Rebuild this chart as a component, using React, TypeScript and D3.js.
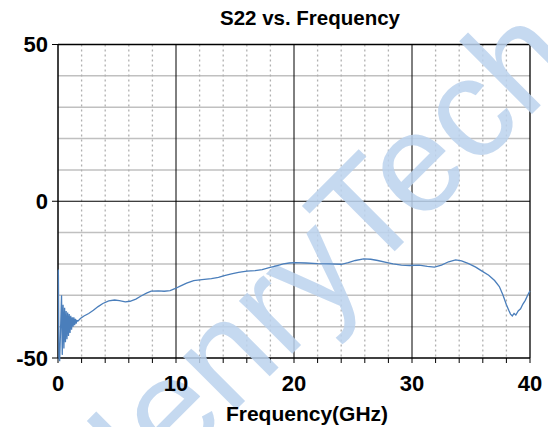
import React from "react";
import * as d3 from "d3";

const freqGHz: number[] = [
  0, 0.03, 0.08, 0.14, 0.3, 0.36, 0.43, 0.5, 0.56, 0.63, 0.69, 0.76, 0.82, 0.89, 0.95, 1.02, 1.08, 1.15,
  1.21, 1.28, 1.34, 1.41, 1.47, 1.54, 1.6, 1.7, 1.9, 2.2, 2.6, 3.0, 3.4, 3.8, 4.3, 4.8, 5.2, 5.7, 6.1, 6.6,
  7.0, 7.5, 7.9, 8.5, 9.0, 9.5, 9.9, 10.4, 10.9, 11.5, 12.2, 13.0, 13.6, 14.1, 14.7, 15.3, 16.0, 16.7, 17.3,
  17.9, 18.5, 19.1, 19.6, 20.1, 21.0, 22.0, 23.0, 24.0, 24.6, 25.2, 25.9, 26.5, 27.1, 27.8, 28.4, 29.1, 29.8,
  30.6, 31.3, 31.9, 32.5, 33.1, 33.7, 34.2, 34.8, 35.4, 35.9, 36.5, 37.0, 37.4, 37.7, 38.0, 38.2, 38.35,
  38.5, 38.65, 38.8, 39.0, 39.2, 39.4, 39.6, 39.8, 40.0,
];

const s22dB: number[] = [
  -22, -22, -50, -51, -30, -49, -33, -47, -34, -45, -35, -44, -35.5, -43, -36, -42, -36.5, -41,
  -37, -40, -37, -39.5, -37.5, -39, -38, -38.2, -37.4, -36.6, -35.8, -34.8, -33.6, -32.6, -31.8, -31.5, -31.7, -32.1, -31.9, -31.2,
  -30.3, -29.3, -28.7, -28.6, -28.7, -28.5, -27.9, -27.0, -26.1, -25.3, -25.0, -24.7, -24.3, -23.7, -23.2, -22.7, -22.3, -22.1, -21.8,
  -21.2, -20.6, -20.0, -19.7, -19.6, -19.7, -19.9, -20.0, -20.1, -19.6, -18.9, -18.4, -18.5, -18.9, -19.5, -20.0, -20.4, -20.5,
  -20.4, -20.8, -21.0, -20.4, -19.3, -18.7, -19.0, -19.9, -21.0, -22.2, -23.6, -25.3, -27.2, -29.8, -33.0, -34.8, -36.0,
  -36.6, -35.8, -36.3, -35.0, -34.3, -32.8, -31.6, -30.0, -28.6,
];

const xTicks: number[] = [0, 10, 20, 30, 40];
const yTicks: number[] = [-50, 0, 50];
const titleText = "S22 vs. Frequency";
const xTitle = "Frequency(GHz)";
const watermark = "HenryTech";

const W = 548;
const H = 427;
const FONT = "'Liberation Sans', Arial, sans-serif";

export default function App() {
  const x = d3.scaleLinear().domain([0, 40]).range([58, 530]);
  const y = d3.scaleLinear().domain([-50, 50]).range([358, 44.5]);
  const minorX = d3.range(2, 40, 2).filter((v) => v % 10 !== 0);
  const hGrid = d3.range(-40, 50, 10).filter((v) => v !== 0);
  const allXTicks = d3.range(0, 41, 2);
  const data = freqGHz.map((f, i) => [f, s22dB[i]] as [number, number]);
  const line = d3
    .line<[number, number]>()
    .x((d) => x(d[0]))
    .y((d) => y(d[1]));

  const [x0, x1] = x.range();
  const [yb, yt] = y.range();

  return (
    <svg
      width={W}
      height={H}
      style={{ position: "absolute", left: 0, top: 0, background: "#fff" }}
    >
      <rect x={0} y={0} width={W} height={H} fill="#fff" />
      {hGrid.map((v) => (
        <line key={"h" + v} x1={x0} x2={x1} y1={y(v)} y2={y(v)} stroke="#c0c0c0" strokeWidth={1.5} />
      ))}
      {minorX.map((v) => (
        <line
          key={"v" + v}
          x1={x(v)}
          x2={x(v)}
          y1={yt}
          y2={yb}
          stroke="#b0b0b0"
          strokeWidth={1.3}
          strokeDasharray="2,3"
        />
      ))}
      {[10, 20, 30].map((v) => (
        <line key={"m" + v} x1={x(v)} x2={x(v)} y1={yt} y2={yb} stroke="#000" strokeWidth={1} />
      ))}
      <line x1={x0} x2={x1} y1={y(0)} y2={y(0)} stroke="#000" strokeWidth={1} />
      <line x1={x0} x2={x1} y1={yt} y2={yt} stroke="#000" strokeWidth={1.3} />
      <line x1={x1} x2={x1} y1={yt} y2={yb} stroke="#000" strokeWidth={1.3} />
      <line x1={x0} x2={x0} y1={yt} y2={yb} stroke="#000" strokeWidth={1.5} />
      <line x1={x0} x2={x1} y1={yb} y2={yb} stroke="#000" strokeWidth={1.5} />
      {allXTicks.map((v) => (
        <line key={"t" + v} x1={x(v)} x2={x(v)} y1={yb} y2={yb + 5} stroke="#000" strokeWidth={1} />
      ))}
      {yTicks.map((v) => (
        <line key={"yt" + v} x1={x0 - 6} x2={x0} y1={y(v)} y2={y(v)} stroke="#000" strokeWidth={1} />
      ))}
      <text
        transform="translate(101,545) rotate(-45)"
        fontFamily={FONT}
        fontSize={142}
        fill="#bcd3ee"
        opacity={0.85}
      >
        {watermark}
      </text>
      <path d={line(data) || ""} fill="none" stroke="#4a7ebb" strokeWidth={1.3} />
      <text x={310} y={25} textAnchor="middle" fontFamily={FONT} fontWeight="bold" fontSize={20.5}>
        {titleText}
      </text>
      {yTicks.map((v) => (
        <text
          key={"yl" + v}
          x={48}
          y={y(v)}
          dy="0.36em"
          textAnchor="end"
          fontFamily={FONT}
          fontWeight="bold"
          fontSize={22}
        >
          {v}
        </text>
      ))}
      {xTicks.map((v) => (
        <text
          key={"xl" + v}
          x={x(v)}
          y={391}
          textAnchor="middle"
          fontFamily={FONT}
          fontWeight="bold"
          fontSize={22}
        >
          {v}
        </text>
      ))}
      <text x={307} y={421} textAnchor="middle" fontFamily={FONT} fontWeight="bold" fontSize={21}>
        {xTitle}
      </text>
    </svg>
  );
}
